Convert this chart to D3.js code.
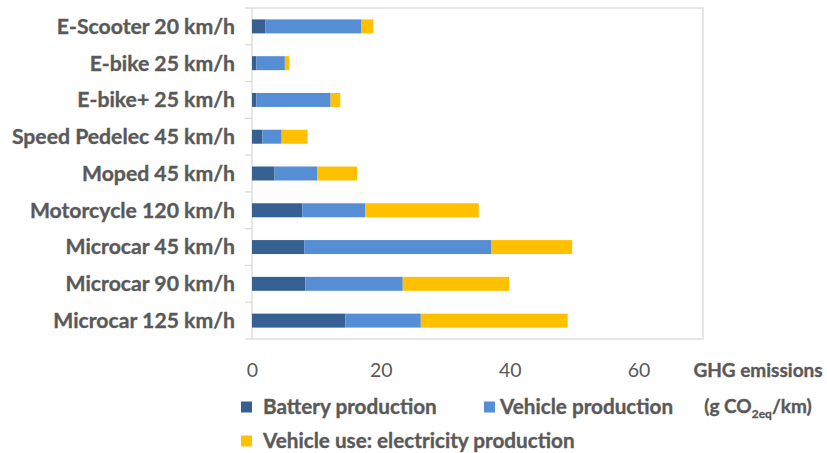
<!DOCTYPE html>
<html><head><meta charset="utf-8">
<script src="https://cdn.jsdelivr.net/npm/d3@7"></script>
<style>body{margin:0;background:#fff}svg{display:block}text{font-family:Lato,"Open Sans",sans-serif;fill:#595959}.b{font-weight:bold;stroke:#595959;stroke-width:0.35px}</style>
</head><body><svg id="c" width="827" height="453"></svg>
<script>
const categories = ["E-Scooter 20 km/h","E-bike 25 km/h","E-bike+ 25 km/h","Speed Pedelec 45 km/h","Moped 45 km/h","Motorcycle 120 km/h","Microcar 45 km/h","Microcar 90 km/h","Microcar 125 km/h"];
const batteryProduction = [2.1, 0.7, 0.7, 1.6, 3.5, 7.8, 8.1, 8.3, 14.5];
const vehicleProduction = [14.9, 4.4, 11.5, 3.0, 6.6, 9.8, 29.0, 15.1, 11.7];
const vehicleUse = [1.8, 0.7, 1.5, 4.0, 6.2, 17.6, 12.6, 16.5, 22.8];
const seriesNames = ["Battery production","Vehicle production","Vehicle use: electricity production"];
const seriesColors = ["#376092","#558ED5","#FFC000"];
const xTicks = [0, 20, 40, 60];

const svg = d3.select("#c");
const rows = categories.map((c,i)=>({cat:c, b:batteryProduction[i], v:vehicleProduction[i], u:vehicleUse[i]}));
const keys = ["b","v","u"];
const stacked = d3.stack().keys(keys)(rows);

const x = d3.scaleLinear().domain([0,70]).range([252,703]);
const y = d3.scaleBand().domain(categories).range([8,339]).paddingInner(0.62).paddingOuter(0.31);
const step = y.step();

// plot border
svg.append("rect").attr("x",252).attr("y",8).attr("width",703-252).attr("height",339-8)
  .attr("fill","none").attr("stroke","#D9D9D9").attr("stroke-width",1.3);
// category ticks
d3.range(categories.length+1).forEach(i=>{
  const yy = 8 + i*step;
  svg.append("line").attr("x1",245).attr("x2",252).attr("y1",yy).attr("y2",yy)
    .attr("stroke","#D9D9D9").attr("stroke-width",1.3);
});

// bars
svg.append("g").selectAll("g").data(stacked).join("g")
  .attr("fill",(d,i)=>seriesColors[i])
  .selectAll("rect").data(d=>d).join("rect")
  .attr("x",d=>x(d[0])).attr("width",d=>x(d[1])-x(d[0]))
  .attr("y",d=>y(d.data.cat)).attr("height",y.bandwidth());

// category labels
svg.append("g").selectAll("text").data(categories).join("text")
  .attr("class","b")
  .attr("x",235).attr("y",d=>y(d)+y.bandwidth()/2).attr("dy","0.35em")
  .attr("text-anchor","end").attr("font-size",21.2)
  .text(d=>d);

// x tick labels
const xAxis = d3.axisBottom(x).tickValues(xTicks).tickSize(0).tickPadding(0);
const gx = svg.append("g").attr("transform","translate(0,370)").call(xAxis);
gx.select(".domain").remove();
gx.selectAll("text").attr("dy","0.35em").attr("y",0).attr("font-size",19.5)
  .style("font-family","Lato, 'Open Sans', sans-serif").attr("fill","#595959");

// axis title
svg.append("text").attr("class","b").attr("x",758).attr("y",370).attr("dy","0.35em").attr("text-anchor","middle")
  .attr("font-size",19).text("GHG emissions");
const t2 = svg.append("text").attr("class","b").attr("x",758).attr("y",406).attr("dy","0.35em").attr("text-anchor","middle")
  .attr("font-size",19);
t2.append("tspan").text("(g CO");
t2.append("tspan").attr("font-size",12).attr("dy","5").text("2eq");
t2.append("tspan").attr("dy","-5").text("/km)");

// legend
const legendPos = [{x:241,y:407},{x:484,y:407},{x:241,y:441}];
const lg = svg.append("g").selectAll("g").data(seriesNames).join("g")
  .attr("transform",(d,i)=>`translate(${legendPos[i].x},${legendPos[i].y})`);
lg.append("rect").attr("x",0).attr("y",-5.5).attr("width",11).attr("height",11)
  .attr("fill",(d,i)=>seriesColors[i]);
lg.append("text").attr("class","b").attr("x",(d,i)=>i===1?16:22).attr("y",0).attr("dy","0.35em")
  .attr("font-size",20.7).text(d=>d);
</script></body></html>
